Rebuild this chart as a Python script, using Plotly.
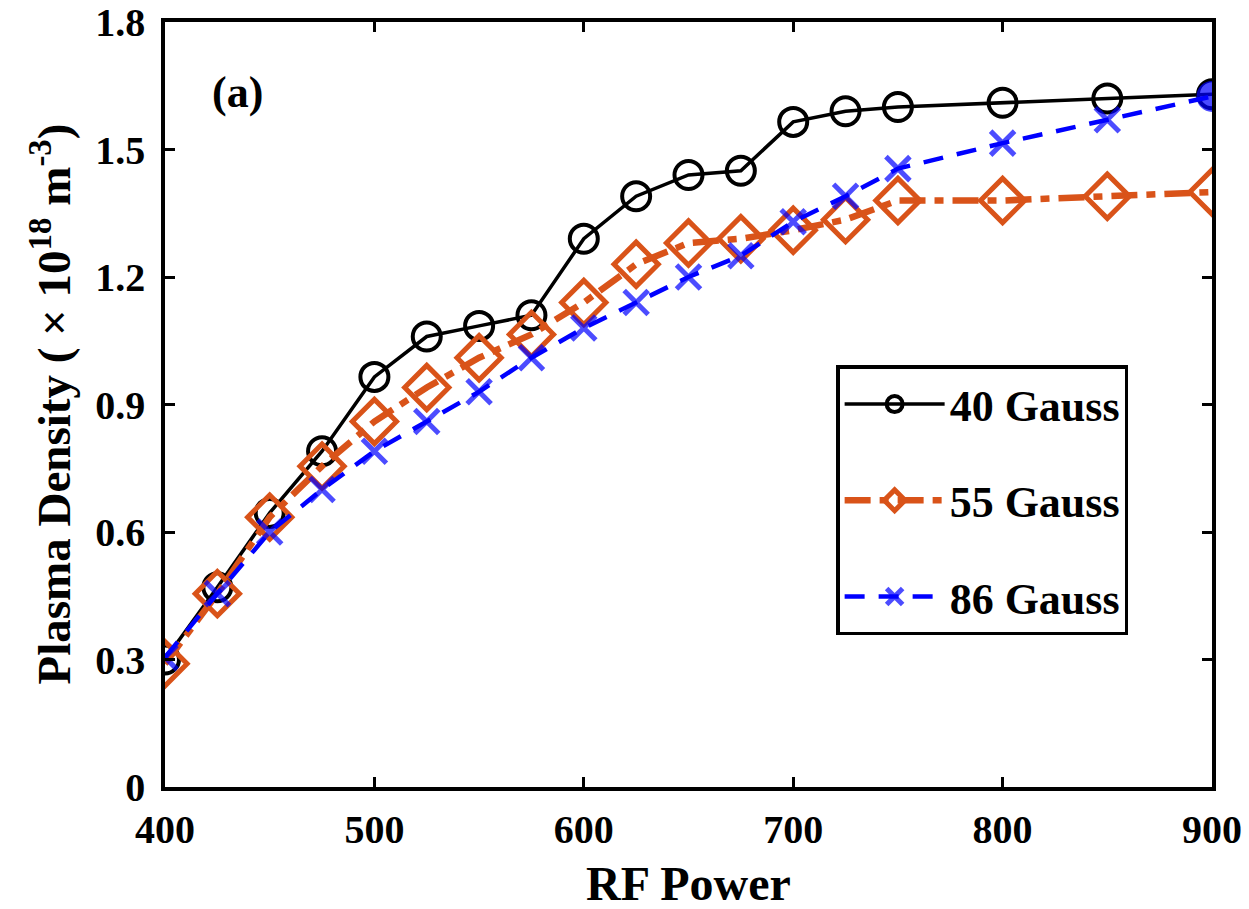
import plotly.graph_objects as go

power = [400, 425, 450, 475, 500, 525, 550, 575, 600, 625, 650, 675, 700, 725, 750, 800, 850, 900]
g40 = [0.30, 0.47, 0.645, 0.79, 0.965, 1.06, 1.085, 1.11, 1.29, 1.39, 1.44, 1.45, 1.565, 1.59, 1.60, 1.61, 1.62, 1.63]
g55 = [0.29, 0.455, 0.635, 0.755, 0.86, 0.94, 1.01, 1.065, 1.14, 1.23, 1.28, 1.29, 1.31, 1.335, 1.38, 1.38, 1.39, 1.40]
g86 = [0.305, 0.455, 0.60, 0.70, 0.79, 0.86, 0.93, 1.01, 1.08, 1.14, 1.20, 1.25, 1.33, 1.39, 1.455, 1.515, 1.57, 1.625]

names = ["40 Gauss", "55 Gauss", "86 Gauss"]
xticks = [400, 500, 600, 700, 800, 900]
yticks = [0, 0.3, 0.6, 0.9, 1.2, 1.5, 1.8]
yticktext = ["0", "0.3", "0.6", "0.9", "1.2", "1.5", "1.8"]

FONT = "Liberation Serif, Times New Roman, serif"
ORANGE = "#D95319"
BLUE = "#0000FF"

fig = go.Figure()
fig.add_trace(go.Scatter(
    x=power, y=g40, name=names[0], mode="lines+markers", legendgroup="a",
    line=dict(color="black", width=3.5),
    marker=dict(symbol="circle-open", size=28, color="black", line=dict(width=4)),
))
fig.add_trace(go.Scatter(
    x=power, y=g55, name=names[1], mode="lines+markers", legendgroup="b",
    line=dict(color=ORANGE, width=6.5, dash="26px,9px,9px,9px"),
    marker=dict(symbol="diamond-open", size=34, color=ORANGE, line=dict(width=5)),
))
blue_sym = ["x-thin-open"] * (len(power) - 1) + ["circle"]
blue_size = [24] * (len(power) - 1) + [26]
fig.add_trace(go.Scatter(
    x=power, y=g86, name=names[2], mode="lines+markers", legendgroup="c",
    line=dict(color=BLUE, width=4.5, dash="20px,14px"),
    marker=dict(symbol=blue_sym, size=blue_size, color=BLUE, line=dict(width=5, color=BLUE)),
))

axis_common = dict(
    showline=True, linecolor="black", linewidth=3.5, mirror="ticks",
    ticks="inside", ticklen=10, tickwidth=3, tickcolor="black",
    showgrid=False, zeroline=False, automargin=False,
    tickfont=dict(family=FONT, size=40, color="black", weight="bold"),
)

fig.update_xaxes(range=[400, 900], tickvals=xticks, ticktext=[str(v) for v in xticks],
                 ticklabelstandoff=4, **axis_common)
fig.update_yaxes(range=[0, 1.8], tickvals=yticks, ticktext=yticktext,
                 ticklabelstandoff=8, **axis_common)

fig.add_annotation(text="RF Power", xref="paper", yref="paper", x=0.5, y=0, yshift=-96,
                   xanchor="center", yanchor="middle", showarrow=False,
                   font=dict(family=FONT, size=48, color="black", weight="bold"))
fig.add_annotation(text="Plasma Density ( × 10<sup>18</sup> m<sup>-3</sup>)", xref="paper", yref="paper",
                   x=0, y=0.5, xshift=-114, xanchor="center", yanchor="middle", textangle=-90,
                   showarrow=False,
                   font=dict(family=FONT, size=47, color="black", weight="bold"))
fig.add_annotation(text="(a)", xref="paper", yref="paper", x=0.069, y=0.908,
                   xanchor="center", yanchor="middle", showarrow=False,
                   font=dict(family=FONT, size=44, color="black", weight="bold"))

fig.update_layout(
    width=1249, height=909,
    margin=dict(l=165, r=37, t=22, b=122, autoexpand=False),
    paper_bgcolor="white", plot_bgcolor="white",
    showlegend=True,
    legend=dict(
        x=0.641, y=0.551, xanchor="left", yanchor="top",
        bgcolor="white", bordercolor="black", borderwidth=3.5,
        font=dict(family=FONT, size=44, color="black", weight="bold"),
        tracegroupgap=36, itemwidth=100,
    ),
)

fig.write_html("out.html")
